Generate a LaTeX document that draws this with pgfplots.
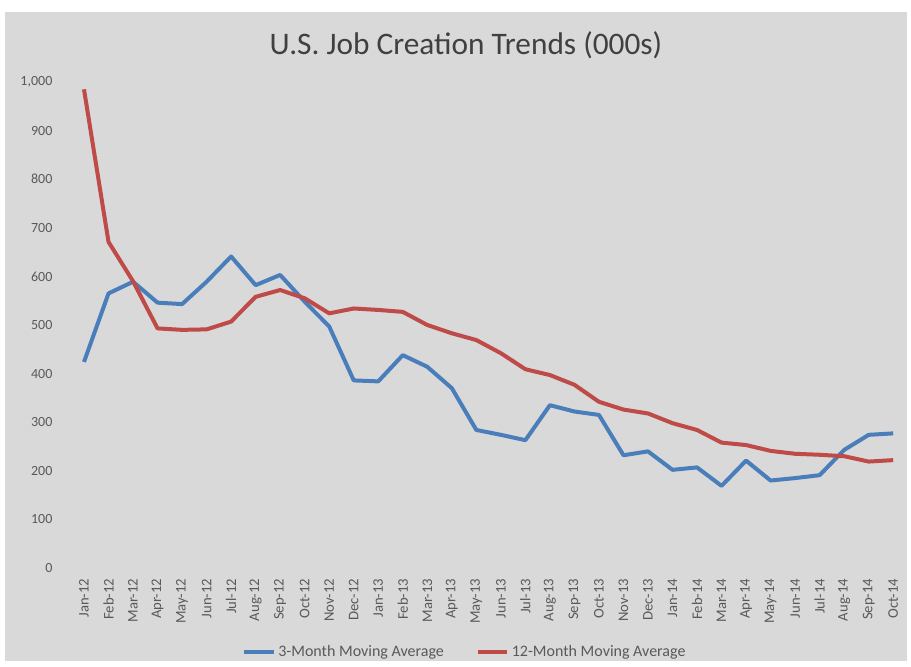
\documentclass[border=0pt]{standalone}
\usepackage{fontspec}
\setmainfont{Carlito}
\usepackage{pgfplots}
\pgfplotsset{compat=1.18}
\definecolor{bg}{HTML}{D9D9D9}
\definecolor{txt}{HTML}{595959}
\definecolor{ttl}{HTML}{404040}
\definecolor{blueline}{HTML}{4A7EBB}
\definecolor{redline}{HTML}{BE4B48}
\begin{document}
\begin{tikzpicture}
% page and chart background (1 px = 0.75 pt)
\fill[white] (0pt,0pt) rectangle (683.25pt,-500.25pt);
\fill[bg] (3.75pt,-9pt) rectangle (680.25pt,-496pt);
\node[text=ttl, font=\fontsize{23.5}{27}\selectfont] at (349.5pt,-33.75pt) {U.S. Job Creation Trends (000s)};
\begin{axis}[
    at={(53.8pt,-426pt)}, anchor=south west,
    scale only axis,
    width=625.3pt, height=364.5pt,
    xmin=-0.5, xmax=33.5,
    ymin=0, ymax=1000,
    ytick={0,100,...,1000},
    xtick={0,...,33},
    xticklabels={Jan-12,Feb-12,Mar-12,Apr-12,May-12,Jun-12,Jul-12,Aug-12,Sep-12,Oct-12,Nov-12,Dec-12,
                 Jan-13,Feb-13,Mar-13,Apr-13,May-13,Jun-13,Jul-13,Aug-13,Sep-13,Oct-13,Nov-13,Dec-13,
                 Jan-14,Feb-14,Mar-14,Apr-14,May-14,Jun-14,Jul-14,Aug-14,Sep-14,Oct-14},
    axis line style={draw=none},
    major tick length=0pt,
    /pgf/number format/assume math mode=true,
    /pgf/number format/1000 sep={,},
    yticklabel style={text=txt, font=\fontsize{10.5}{12}\selectfont, anchor=east, xshift=-11pt},
    xticklabel style={text=txt, font=\fontsize{11}{13}\selectfont, yshift=-4.5pt, rotate=90, anchor=east},
    legend style={at={(0.472,-0.173)}, anchor=center, draw=none, fill=none,
                  font=\fontsize{12}{14}\selectfont, text=txt, legend columns=2,
                  /tikz/every even column/.append style={column sep=22pt}},
    legend image code/.code={\draw[#1] (0pt,0pt) -- (22pt,0pt);},
  ]
  % 3-month moving average
  \addplot[blueline, line width=3pt, line join=round] coordinates {
    (0,424) (1,565) (2,589) (3,546) (4,543) (5,589) (6,641) (7,582) (8,603) (9,548)
    (10,497) (11,386) (12,384) (13,438) (14,414) (15,370) (16,284) (17,274) (18,263) (19,335)
    (20,322) (21,315) (22,232) (23,240) (24,202) (25,207) (26,169) (27,221) (28,180) (29,185)
    (30,191) (31,243) (32,274) (33,277)
  };
  % 12-month moving average
  \addplot[redline, line width=3pt, line join=round] coordinates {
    (0,985) (1,671) (2,590) (3,493) (4,490) (5,491) (6,507) (7,558) (8,572) (9,555)
    (10,524) (11,534) (12,531) (13,527) (14,500) (15,483) (16,469) (17,442) (18,409) (19,397)
    (20,377) (21,342) (22,326) (23,318) (24,298) (25,284) (26,258) (27,253) (28,241) (29,235)
    (30,233) (31,230) (32,219) (33,222)
  };
  \legend{3-Month Moving Average,12-Month Moving Average}
\end{axis}
\end{tikzpicture}
\end{document}
